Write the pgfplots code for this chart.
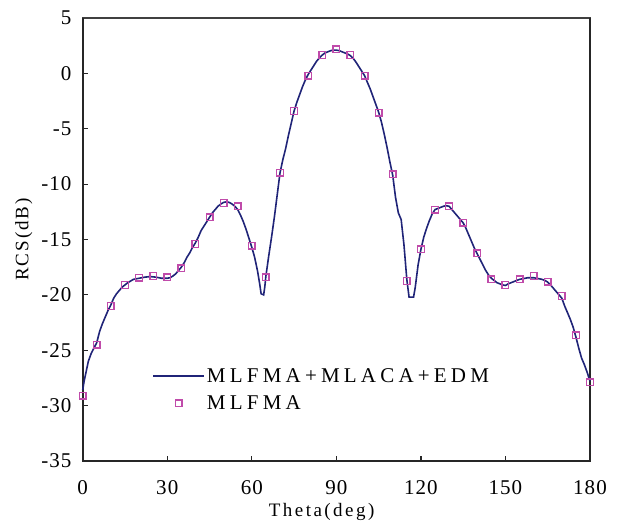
\documentclass[border=0pt]{standalone}
\usepackage{fontspec}
\setmainfont{Liberation Serif}
\newfontfamily\tickfont[LetterSpace=5]{Liberation Serif}
\newfontfamily\legfont[LetterSpace=20]{Liberation Serif}
\newfontfamily\labfont[LetterSpace=13]{Liberation Serif}
\newfontfamily\ylabfont[LetterSpace=10]{Liberation Serif}
\usepackage{pgfplots}
\pgfplotsset{compat=1.18}
\definecolor{navyline}{RGB}{32,36,120}
\definecolor{mkcol}{RGB}{192,75,170}
\begin{document}
\begin{tikzpicture}
\path[use as bounding box] (-82.7pt,-60pt) rectangle (535.3pt,461pt);
\begin{axis}[
  at={(0pt,0pt)}, anchor=south west,
  scale only axis, width=507.3pt, height=443pt,
  xmin=0, xmax=180, ymin=-35, ymax=5,
  xtick={0,30,...,180}, ytick={-35,-30,...,5},
  tick align=inside, tick pos=left,
  major tick length=5pt,
  tick style={line width=1.2pt, black!85},
  axis line style={line width=1.2pt, black!75},
  clip=false,
  /pgf/number format/assume math mode=true,
  ticklabel style={font=\tickfont\fontsize{21}{23}\selectfont},
  xticklabel style={anchor=base, inner sep=0pt, yshift=-34pt},
  yticklabel style={anchor=east, inner sep=0pt, xshift=-11pt},
  xlabel={Theta(deg)}, ylabel={RCS(dB)},
  xlabel style={font=\labfont\fontsize{19}{21}\selectfont, inner sep=0pt, at={(axis description cs:0.471,-0.1264)}, anchor=base},
  ylabel style={font=\ylabfont\fontsize{19}{21}\selectfont, at={(axis description cs:-0.116,0.5)}, anchor=center},
  legend cell align=left,
  legend style={draw=none, fill=none, at={(axis description cs:0.137,0.2140)}, anchor=north west,
    font=\legfont\fontsize{21}{23}\selectfont, inner sep=0pt, row sep=8pt},
  legend image code/.code={\draw[mark repeat=2,mark phase=2,#1] plot coordinates {(0pt,0pt) (25.5pt,0pt) (51pt,0pt)};},
]
\draw[line width=2.2pt, black!85] (rel axis cs:0,1) -- (rel axis cs:0,0) -- (rel axis cs:1,0) -- (rel axis cs:1,1);
\addplot[navyline, line width=1.6pt, no markers] coordinates {
(0,-28.6) (0.5,-27.8) (1,-27.2) (2,-26.0) (3,-25.3) (4,-24.8) (5,-24.3) (6,-23.3) (7,-22.6) (8,-22.0) (9,-21.4)
(10,-20.9) (11,-20.3) (12,-19.9) (13,-19.6) (14,-19.3) (15,-19.1) (16,-18.9) (17,-18.75) (18,-18.6)
(20,-18.5) (22,-18.4) (24,-18.35) (26,-18.4) (28,-18.5) (30,-18.5) (31,-18.45) (32,-18.3) (33,-18.1) (34,-17.8)
(35,-17.5) (36,-17.1) (37,-16.6) (38,-16.2) (39,-15.7) (40,-15.3) (41,-14.8) (42,-14.2) (43,-13.8) (44,-13.4)
(45,-13.0) (46,-12.6) (47,-12.3) (48,-12.0) (49,-11.8) (50,-11.65) (51,-11.6) (52,-11.65) (53,-11.8) (54,-12.0)
(55,-12.3) (56,-12.8) (57,-13.4) (58,-14.1) (59,-14.9) (60,-15.7) (61,-16.6) (62,-17.8) (62.8,-19.0) (63.3,-19.9)
(64.2,-20.0) (64.6,-19.3) (65,-18.3) (66,-16.5) (67,-14.8) (68,-13.0) (69,-11.0) (70,-9.0) (71,-7.8) (72,-6.8)
(73,-5.6) (74,-4.5) (75,-3.4) (76,-2.6) (77,-1.9) (78,-1.2) (79,-0.6) (80,-0.1) (81,0.3) (82,0.7) (83,1.1) (84,1.4)
(85,1.65) (86,1.85) (87,1.95) (88,2.05) (89,2.1) (90,2.1) (91,2.05) (92,1.95) (93,1.85) (94,1.75) (95,1.6)
(96,1.35) (97,1.0) (98,0.6) (99,0.2) (100,-0.2) (101,-0.8) (102,-1.4) (103,-2.1) (104,-2.8) (105,-3.5) (106,-4.4)
(107,-5.5) (108,-6.7) (109,-8.0) (110,-9.2) (111,-11.2) (112,-12.6) (113,-13.2) (114,-15.5) (115,-18.6)
(115.8,-20.2) (117.4,-20.2) (118,-19.3) (119,-17.3) (120,-15.9) (121,-14.8) (122,-14.0) (123,-13.3) (124,-12.7)
(125,-12.3) (126,-12.2) (127,-12.1) (128,-12.0) (129,-11.95) (130,-12.0) (131,-12.3) (132,-12.6) (133,-12.9)
(134,-13.2) (135,-13.5) (136,-14.0) (137,-14.6) (138,-15.2) (139,-15.8) (140,-16.3) (141,-16.8) (142,-17.3)
(143,-17.8) (144,-18.2) (145,-18.5) (146,-18.7) (147,-18.9) (148,-19.0) (149,-19.1) (150,-19.15) (151,-19.0)
(152,-18.9) (153,-18.8) (154,-18.7) (155,-18.6) (156,-18.55) (157,-18.5) (158,-18.45) (159,-18.45) (160,-18.45)
(161,-18.5) (162,-18.55) (163,-18.6) (164,-18.7) (165,-18.85) (166,-19.1) (167,-19.4) (168,-19.7) (169,-20.0)
(170,-20.3) (171,-21.0) (172,-21.6) (173,-22.2) (174,-22.9) (175,-23.8) (176,-24.8) (177,-25.7) (178,-26.3)
(179,-27.0) (180,-27.8)
};
\addlegendentry{MLFMA+MLACA+EDM}
\addplot[only marks, mark=square, mark size=3.3pt, mark options={draw=mkcol, line width=1.4pt, fill=white}] coordinates {
(0,-29.1) (5,-24.5) (10,-21.0) (15,-19.1) (20,-18.45) (25,-18.3) (30,-18.4) (35,-17.6) (40,-15.4) (45,-13.0)
(50,-11.7) (55,-12.0) (60,-15.55) (65,-18.4) (70,-8.97) (75,-3.4) (80,-0.2) (85,1.66) (90,2.17) (95,1.66)
(100,-0.2) (105,-3.55) (110,-9.1) (115,-18.75) (120,-15.9) (125,-12.3) (130,-12.0) (135,-13.5) (140,-16.25)
(145,-18.6) (150,-19.1) (155,-18.6) (160,-18.3) (165,-18.8) (170,-20.1) (175,-23.65) (180,-27.9)
};
\addlegendentry{MLFMA}
\end{axis}
\end{tikzpicture}
\end{document}
